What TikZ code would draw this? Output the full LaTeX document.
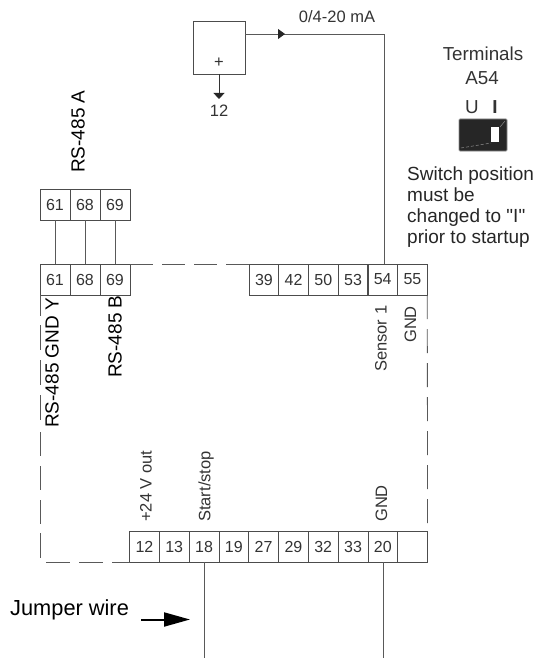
\documentclass[tikz,border=0pt]{standalone}
\usepackage{fontspec}
\setmainfont{Liberation Sans}
\newfontfamily\straightfont{Liberation Sans}
\usetikzlibrary{arrows.meta}
\tikzset{
    wire/.style={black!65,line width=.8pt},
    gapped/.style={wire,dash pattern=on 23pt off 9pt},
    termbox/.style={draw=black!70,line width=.8pt,minimum width=29.8pt,minimum height=31pt,inner sep=0pt,outer sep=0pt,text=black!80,font=\fontsize{16}{18}\selectfont},
    biglabel/.style={rotate=90,anchor=west,inner sep=0pt,font=\fontsize{19}{21}\selectfont},
    smalllabel/.style={rotate=90,anchor=west,inner sep=0pt,text=black!80,font=\fontsize{16.5}{18}\selectfont},
    plaintext/.style={inner sep=0pt,text=black!85,font=\fontsize{19}{21}\selectfont},
    tinytext/.style={inner sep=0pt,text=black!80,font=\fontsize{16.5}{18}\selectfont}
}

\begin{document}
\begin{tikzpicture}[x=1pt,y=-1pt]
    \useasboundingbox (0,0) rectangle (534,658);

    % terminal rows
    \foreach \t [count=\i from 0] in {61,68,69} {
        \node[termbox,minimum width=30pt] (up\t) at (55+30*\i,204.5) {\t};
        \node[termbox,minimum width=30pt] (lo\t) at (55+30*\i,279.5) {\t};
        \draw[wire] (up\t) -- (lo\t);
    }
    \foreach \t [count=\i from 0] in {39,42,50,53,54,55}
        \node[termbox] (r\t) at (263.9+29.7*\i,279.5) {\t};
    \foreach \t [count=\i from 0] in {12,13,18,19,27,29,32,33,20}
        \node[termbox] (b\t) at (144.4+29.8*\i,546.5) {\t};
    \node[termbox] (bx) at (412.6,546.5) {};

    % dashed outline
    \coordinate (leftend) at (40,558);
    \coordinate (botstart) at (46,562);
    \draw[gapped] (lo69.north east) -- (r39.north west);
    \draw[wire,dash pattern=on 21pt off 9pt on 25pt off 10pt on 25pt off 10pt on 25pt off 12pt on 24pt off 10pt on 24pt off 10pt on 24pt off 9pt on 25pt off 9pt] (lo61.south west) -- (leftend);
    \draw[wire,dash pattern=on 24pt off 9pt] (botstart) -- (b12.south west);
    \draw[wire,dash pattern=on 24pt off 10pt] (r55.south east) -- (bx.north east);

    % sensor
    \node[draw=black!70,line width=.8pt,minimum width=52pt,minimum height=53pt,inner sep=0pt,outer sep=0pt] (sensor) at (219,47.5) {};
    \node[tinytext] (plus) at (219,63) {+};
    \coordinate (bend) at (384,34);
    \coordinate (mid) at (285,34);
    \coordinate (tip) at (219,99);
    \node[tinytext] (ma) at (337,17) {0/4-20 mA};
    \node[tinytext] (twelve) at (219,111) {12};
    \draw[wire] (sensor.east |- bend) -- (bend) -- (bend |- r54.north);
    \draw[wire,-{Triangle[length=7pt,width=10pt,black!85]}] (sensor.east |- bend) -- (mid);
    \draw[wire,black!80,-{Triangle[length=6pt,width=11pt,black!85]}] (sensor.south) -- (tip);

    % switch
    \node[tinytext,font=\fontsize{18.8}{21}\selectfont] (termtxt) at (483,54) {Terminals};
    \node[tinytext,font=\fontsize{18.8}{21}\selectfont] (a54) at (482,78) {A54};
    \node[tinytext,font=\fontsize{18.8}{21}\selectfont] (utxt) at (472,107) {U};
    \node[tinytext,font=\bfseries\fontsize{18.8}{21}\selectfont] (itxt) at (495,107) {I};
    \draw[draw=black!45,fill=black!85,line width=.8pt,rounded corners=1pt] (459,119) rectangle (507,151);
    \draw[black!45,densely dashed,line width=.5pt] (461,148) -- (491,143);
    \draw[black!45,line width=.5pt] (500,127) -- (505,121);
    \fill[white] (491,127) rectangle (499,142);
    \node[plaintext,anchor=base west] (sw1) at (407,180) {Switch position};
    \node[plaintext,anchor=base west] (sw2) at (407,201) {must be};
    \node[plaintext,anchor=base west] (sw3) at (407,222) {\straightfont changed to "I"};
    \node[plaintext,anchor=base west] (sw4) at (407,243) {prior to startup};

    % labels
    \node[biglabel] (rsa) at (78,173) {RS-485 A};
    \node[biglabel] (rsy) at (52,428) {RS-485 GND Y};
    \node[biglabel] (rsb) at (115,378) {RS-485 B};
    \node[smalllabel] (sens) at (381,372) {Sensor 1};
    \node[smalllabel] (gnda) at (410.5,343) {GND};
    \node[smalllabel] (plus24) at (146,522) {+24 V out};
    \node[smalllabel] (start) at (206,522) {Start/stop};
    \node[smalllabel] (gndb) at (381.5,522) {GND};

    % outgoing wires
    \coordinate (endl) at (204,658);
    \coordinate (endr) at (383,658);
    \draw[wire] (b18.south -| endl) -- (endl);
    \draw[wire] (b20.south -| endr) -- (endr);

    % jumper
    \node[plaintext,font=\fontsize{21.8}{24}\selectfont,text=black,anchor=base west] (jump) at (10,615) {Jumper wire};
    \coordinate (jfrom) at (141,619.5);
    \coordinate (jto) at (190,619.5);
    \draw[line width=2pt,black,-{Triangle[length=26pt,width=14pt]}] (jfrom) -- (jto);
\end{tikzpicture}
\end{document}
